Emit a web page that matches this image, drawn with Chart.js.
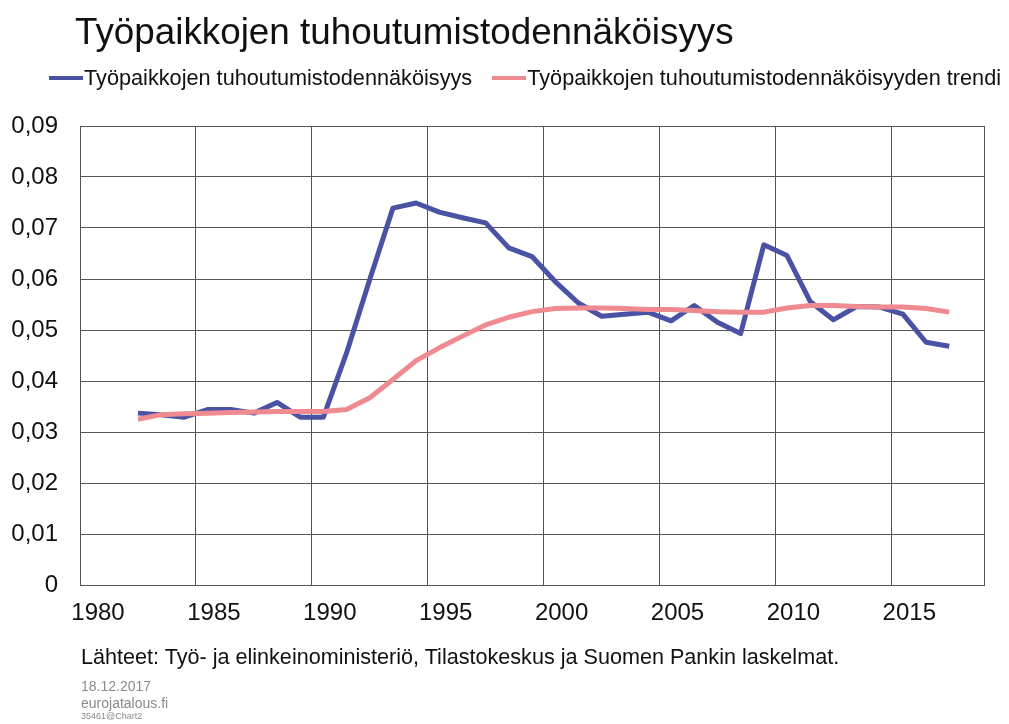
<!DOCTYPE html>
<html lang="fi">
<head>
<meta charset="utf-8">
<title>Työpaikkojen tuhoutumistodennäköisyys</title>
<script src="https://cdn.jsdelivr.net/npm/chart.js@4.4.1/dist/chart.umd.min.js"></script>
<style>
    html, body { margin: 0; padding: 0; background: #fff; }
    body { width: 1009px; height: 724px; position: relative; overflow: hidden;
           font-family: "Liberation Sans", Arial, sans-serif; color: #111; }
    #chart { position: absolute; left: 0; top: 0; }
    .txt { position: absolute; white-space: nowrap; line-height: 1; }
    #title { left: 75px; top: 14px; font-size: 36.8px; }
    #legend { position: absolute; left: 49px; top: 66px; display: flex; align-items: center;
              font-size: 21.7px; line-height: 24px; white-space: nowrap; width: 980px; }
    #legend .item { display: flex; align-items: center; margin-right: 20px; flex-shrink: 0; }
    #legend .swatch { width: 34px; height: 4px; margin-right: 1px; flex-shrink: 0; }
    #source { left: 81px; top: 646px; font-size: 21.6px; }
    .meta { color: #8a8a8a; }
    #date { left: 81px; top: 679px; font-size: 14px; }
    #site { left: 81px; top: 696px; font-size: 14px; }
    #code { left: 81px; top: 712px; font-size: 9px; }
</style>
</head>
<body>
<canvas id="chart" width="1009" height="724"></canvas>
<div class="txt" id="title">Työpaikkojen tuhoutumistodennäköisyys</div>
<div id="legend"></div>
<div class="txt" id="source">Lähteet: Työ- ja elinkeinoministeriö, Tilastokeskus ja Suomen Pankin laskelmat.</div>
<div class="txt meta" id="date">18.12.2017</div>
<div class="txt meta" id="site">eurojatalous.fi</div>
<div class="txt meta" id="code">35461@Chart2</div>
<script>
// Years (annual values, plotted at mid-year)
const YEARS = [
    1982, 1983, 1984, 1985, 1986, 1987, 1988, 1989, 1990, 1991, 1992, 1993,
    1994, 1995, 1996, 1997, 1998, 1999, 2000, 2001, 2002, 2003, 2004, 2005,
    2006, 2007, 2008, 2009, 2010, 2011, 2012, 2013, 2014, 2015, 2016, 2017
];

// Job destruction probability
const DESTRUCTION = [
    0.0337, 0.0334, 0.0329, 0.0344, 0.0344, 0.0337, 0.0358, 0.0329, 0.0329, 0.0455, 0.0599, 0.0739,
    0.0749, 0.0731, 0.0720, 0.0710, 0.0661, 0.0644, 0.0595, 0.0553, 0.0527, 0.0531, 0.0535, 0.0518,
    0.0548, 0.0515, 0.0493, 0.0667, 0.0646, 0.0556, 0.0520, 0.0546, 0.0545, 0.0531, 0.0476, 0.0468
];

// Trend of job destruction probability
const TREND = [
    0.0325, 0.0334, 0.0336, 0.0337, 0.0338, 0.0339, 0.0340, 0.0340, 0.0340, 0.0344, 0.0367, 0.0403,
    0.0440, 0.0465, 0.0488, 0.0510, 0.0525, 0.0536, 0.0542, 0.0543, 0.0543, 0.0542, 0.0540, 0.0540,
    0.0538, 0.0536, 0.0535, 0.0535, 0.0543, 0.0548, 0.0548, 0.0546, 0.0545, 0.0545, 0.0542, 0.0535
];

const SERIES_LABELS = [
    'Työpaikkojen tuhoutumistodennäköisyys',
    'Työpaikkojen tuhoutumistodennäköisyyden trendi'
];

// Axis ranges
const X_MIN = 1980, X_MAX = 2019, X_STEP = 5;
const Y_MIN = 0, Y_MAX = 0.09, Y_STEP = 0.01;

const BLUE = '#4a52a3';
const PINK = '#ee8a90';
const GRID = '#555555';
const FONT = '"Liberation Sans", Arial, sans-serif';

// Put each annual value in the middle of its year
function toPoints(values) {
    return YEARS.map((year, i) => ({ x: year + 0.5, y: values[i] }));
}

const chart = new Chart(document.getElementById('chart'), {
    type: 'line',
    data: {
        datasets: [{
            label: SERIES_LABELS[0],
            data: toPoints(DESTRUCTION),
            borderColor: BLUE,
            backgroundColor: BLUE,
            borderWidth: 5,
            pointRadius: 0,
            tension: 0,
            borderJoinStyle: 'round',
            order: 1
        }, {
            label: SERIES_LABELS[1],
            data: toPoints(TREND),
            borderColor: PINK,
            backgroundColor: PINK,
            borderWidth: 5,
            pointRadius: 0,
            tension: 0,
            borderJoinStyle: 'round',
            order: 0
        }]
    },
    options: {
        responsive: false,
        animation: false,
        layout: {
            autoPadding: false,
            padding: { top: 126, left: 0, right: 25, bottom: 99 }
        },
        plugins: {
            legend: { display: false },
            title: { display: false },
            tooltip: { enabled: false }
        },
        scales: {
            x: {
                type: 'linear',
                min: X_MIN,
                max: X_MAX,
                afterFit: (scale) => { scale.height = 40; },
                ticks: {
                    stepSize: X_STEP,
                    padding: 14,
                    labelOffset: 18,
                    color: '#111',
                    font: { family: FONT, size: 24 },
                    maxRotation: 0,
                    autoSkip: false,
                    callback: (v) => (v % X_STEP === 0 ? String(v) : '')
                },
                grid: { color: GRID, lineWidth: 1, drawTicks: false },
                border: { color: GRID, width: 1 }
            },
            y: {
                min: Y_MIN,
                max: Y_MAX,
                afterFit: (scale) => { scale.width = 80; },
                ticks: {
                    stepSize: Y_STEP,
                    padding: 22,
                    color: '#111',
                    font: { family: FONT, size: 24 },
                    callback: (v) => (Math.abs(v) < 1e-9 ? '0' : v.toFixed(2).replace('.', ','))
                },
                grid: { color: GRID, lineWidth: 1, drawTicks: false },
                border: { color: GRID, width: 1 }
            }
        }
    }
});

// Build legend from the chart's datasets
const legendEl = document.getElementById('legend');
chart.data.datasets.forEach((ds) => {
    const item = document.createElement('div');
    item.className = 'item';
    const swatch = document.createElement('span');
    swatch.className = 'swatch';
    swatch.style.background = ds.borderColor;
    const label = document.createElement('span');
    label.textContent = ds.label;
    item.appendChild(swatch);
    item.appendChild(label);
    legendEl.appendChild(item);
});
</script>
</body>
</html>
